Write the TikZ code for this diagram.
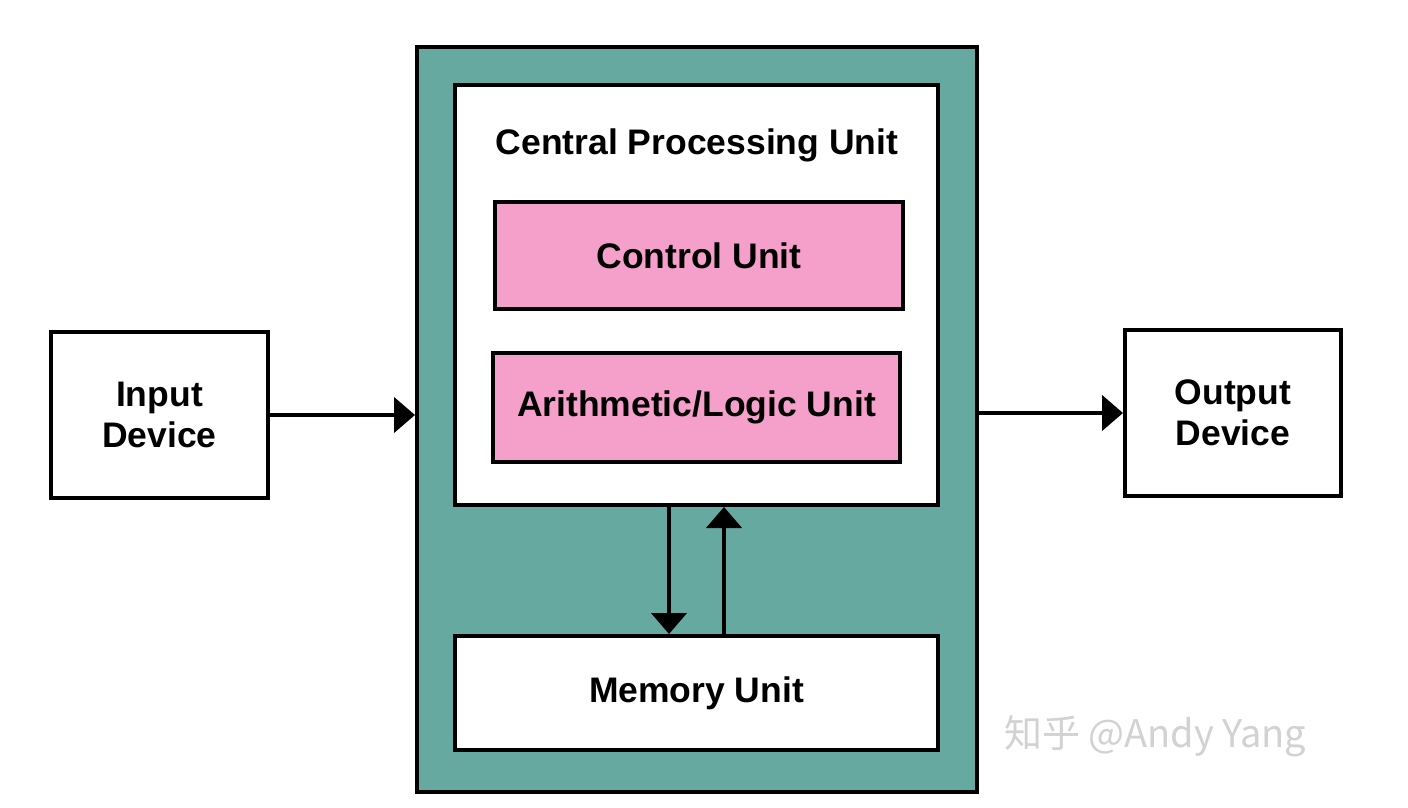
\documentclass[tikz,border=0pt]{standalone}
\usepackage{fontspec}
\setmainfont{Liberation Sans}
\newfontfamily\cjkfont{Noto Sans CJK SC}
\usetikzlibrary{arrows.meta}
\definecolor{cputeal}{HTML}{66A9A0}
\definecolor{unitpink}{HTML}{F5A0CA}
\tikzset{
  unitbox/.style={draw=black, line width=4pt, fill=white, inner sep=0pt,
    align=center, font=\fontsize{35.5}{41}\selectfont\bfseries},
  flow/.style={line width=4.5pt, -{Triangle[length=21pt,width=35pt]}},
}
\begin{document}
\begin{tikzpicture}[x=1pt,y=-1pt]
  \useasboundingbox[fill=white] (0,0) rectangle (1408,808);
  % the computer
  \node[unitbox, fill=cputeal, minimum width=560pt, minimum height=745pt] (sys) at (697,419.5) {};
  \node[unitbox, minimum width=483pt, minimum height=420pt] (cpu) at (696.5,295) {};
  \node[font=\fontsize{35.5}{41}\selectfont\bfseries] (cputitle) at (697,145) {Central Processing Unit};
  \node[unitbox, fill=unitpink, minimum width=408pt, minimum height=107pt] (cu) at (699,255.5) {Control Unit};
  \node[unitbox, fill=unitpink, minimum width=407pt, minimum height=109pt] (alu) at (696.5,407.5) {Arithmetic/Logic Unit};
  \node[unitbox, minimum width=483pt, minimum height=114pt] (mem) at (696.5,693) {Memory Unit};
  % devices
  \node[unitbox, minimum width=217pt, minimum height=166pt] (in) at (159.5,415) {Input\\Device};
  \node[unitbox, minimum width=216pt, minimum height=166pt] (out) at (1233,413) {Output\\Device};
  % connectors
  \coordinate (down) at (669,0);
  \coordinate (up) at (724,0);
  \draw[flow] (in.east) -- (in.east -| sys.west);
  \draw[flow] (out.west -| sys.east) -- (out.west);
  \draw[flow] (cpu.south -| down) -- (mem.north -| down);
  \draw[flow] (mem.north -| up) -- (cpu.south -| up);
  % watermark
  \node[text=gray!35, font=\cjkfont\fontsize{38}{44}\selectfont] (mark) at (1155,736) {知乎 @Andy Yang};
\end{tikzpicture}
\end{document}
